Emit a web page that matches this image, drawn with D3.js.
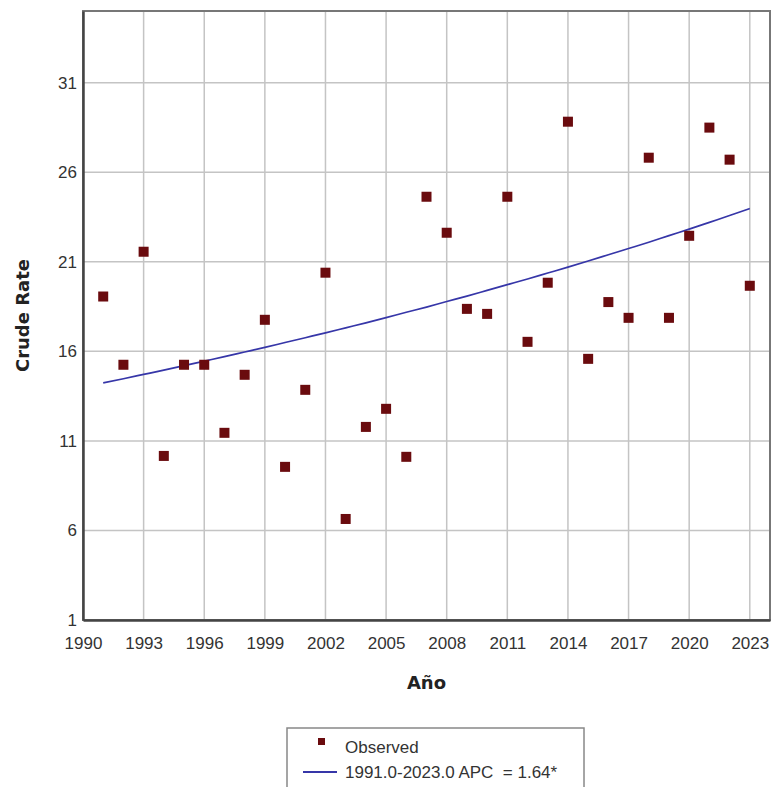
<!DOCTYPE html>
<meta charset="utf-8">
<style>
body { margin: 0; background: #fff; }
.tick text { font-family: "Liberation Sans", Arial, sans-serif; font-size: 17px; fill: #333; }
</style>
<body>
<svg width="772" height="787"></svg>
<script src="https://d3js.org/d3.v7.min.js"></script>
<script>

// observed crude rates per year
var years = [1991, 1992, 1993, 1994, 1995, 1996, 1997, 1998, 1999, 2000, 2001,
             2002, 2003, 2004, 2005, 2006, 2007, 2008, 2009, 2010, 2011, 2012,
             2013, 2014, 2015, 2016, 2017, 2018, 2019, 2020, 2021, 2022, 2023];

var observed = [19.06, 15.25, 21.56, 10.16, 15.25, 15.25, 11.45, 14.69, 17.76, 9.55, 13.85,
                20.39, 6.64, 11.78, 12.79, 10.11, 24.63, 22.62, 18.37, 18.09, 24.63, 16.53,
                19.83, 28.82, 15.58, 18.75, 17.87, 26.81, 17.87, 22.45, 28.49, 26.70, 19.66];

// modelled trend (APC 1.64%)
var modeled = [14.24, 14.47, 14.71, 14.95, 15.20, 15.45, 15.70, 15.96, 16.22, 16.49, 16.76,
               17.03, 17.31, 17.59, 17.88, 18.18, 18.47, 18.78, 19.08, 19.40, 19.72, 20.04,
               20.37, 20.70, 21.04, 21.39, 21.74, 22.09, 22.46, 22.82, 23.20, 23.58, 23.97];

var xTicks = [1990, 1993, 1996, 1999, 2002, 2005, 2008, 2011, 2014, 2017, 2020, 2023];
var yTicks = [1, 6, 11, 16, 21, 26, 31];

var svg = d3.select("svg"),
    margin = {top: 11, right: 2, bottom: 167, left: 83},
    width = +svg.attr("width") - margin.left - margin.right,
    height = +svg.attr("height") - margin.top - margin.bottom,
    g = svg.append("g").attr("transform", "translate(" + margin.left + "," + margin.top + ")");

var x = d3.scaleLinear().domain([1990, 2024]).range([0, width]);
var y = d3.scaleLinear().domain([1, 35]).range([height, 0]);

// grid
g.append("g")
  .selectAll("line")
  .data(xTicks.slice(1))
  .enter().append("line")
    .attr("x1", function(d) { return x(d); })
    .attr("x2", function(d) { return x(d); })
    .attr("y1", 0)
    .attr("y2", height)
    .attr("stroke", "#c4c4c4")
    .attr("stroke-width", 1.5);

g.append("g")
  .selectAll("line")
  .data(yTicks.slice(1))
  .enter().append("line")
    .attr("x1", 0)
    .attr("x2", width)
    .attr("y1", function(d) { return y(d); })
    .attr("y2", function(d) { return y(d); })
    .attr("stroke", "#c4c4c4")
    .attr("stroke-width", 1.5);

// frame
g.append("rect")
    .attr("width", width)
    .attr("height", height)
    .attr("fill", "none")
    .attr("stroke", "#777")
    .attr("stroke-width", 2);

var xAxis = g.append("g")
    .attr("transform", "translate(0," + height + ")")
    .call(d3.axisBottom(x).tickValues(xTicks).tickFormat(d3.format("d")).tickSize(0).tickPadding(17));
xAxis.select(".domain").attr("stroke", "#444").attr("stroke-width", 2.5);

var yAxis = g.append("g")
    .call(d3.axisLeft(y).tickValues(yTicks).tickSize(0).tickPadding(6));
yAxis.select(".domain").attr("stroke", "#444").attr("stroke-width", 2.5);

// trend line
var line = d3.line()
    .x(function(d, i) { return x(years[i]); })
    .y(function(d) { return y(d); })
    .curve(d3.curveMonotoneX);

g.append("path")
    .datum(modeled)
    .attr("fill", "none")
    .attr("stroke", "#3636a8")
    .attr("stroke-width", 1.7)
    .attr("d", line);

// observed points
g.append("g")
  .selectAll("rect")
  .data(observed)
  .enter().append("rect")
    .attr("x", function(d, i) { return x(years[i]) - 5; })
    .attr("y", function(d) { return y(d) - 5; })
    .attr("width", 10)
    .attr("height", 10)
    .attr("fill", "#6a0b0e");

// axis titles
svg.append("text")
    .attr("x", margin.left + width / 2)
    .attr("y", 689)
    .attr("text-anchor", "middle")
    .attr("font-family", "DejaVu Sans, sans-serif")
    .attr("font-weight", "bold")
    .attr("font-size", 18)
    .attr("fill", "#222")
    .text("Año");

svg.append("text")
    .attr("transform", "translate(29," + (margin.top + height / 2) + ") rotate(-90)")
    .attr("text-anchor", "middle")
    .attr("font-family", "DejaVu Sans, sans-serif")
    .attr("font-weight", "bold")
    .attr("font-size", 18)
    .attr("fill", "#222")
    .text("Crude Rate");

// legend
var legend = svg.append("g")
    .attr("font-family", "Liberation Sans, Arial, sans-serif")
    .attr("font-size", 17)
    .attr("fill", "#333");

legend.append("rect")
    .attr("x", 287)
    .attr("y", 728)
    .attr("width", 297)
    .attr("height", 70)
    .attr("fill", "#fff")
    .attr("stroke", "#888")
    .attr("stroke-width", 1.5);

legend.append("rect")
    .attr("x", 318)
    .attr("y", 738)
    .attr("width", 7)
    .attr("height", 7)
    .attr("fill", "#6a0b0e");

legend.append("text")
    .attr("x", 345)
    .attr("y", 753)
    .text("Observed");

legend.append("line")
    .attr("x1", 303)
    .attr("x2", 337)
    .attr("y1", 772)
    .attr("y2", 772)
    .attr("stroke", "#3636a8")
    .attr("stroke-width", 2);

legend.append("text")
    .attr("x", 345)
    .attr("y", 778)
    .attr("xml:space", "preserve")
    .style("white-space", "pre")
    .text("1991.0-2023.0 APC  = 1.64*");

</script>
</body>
